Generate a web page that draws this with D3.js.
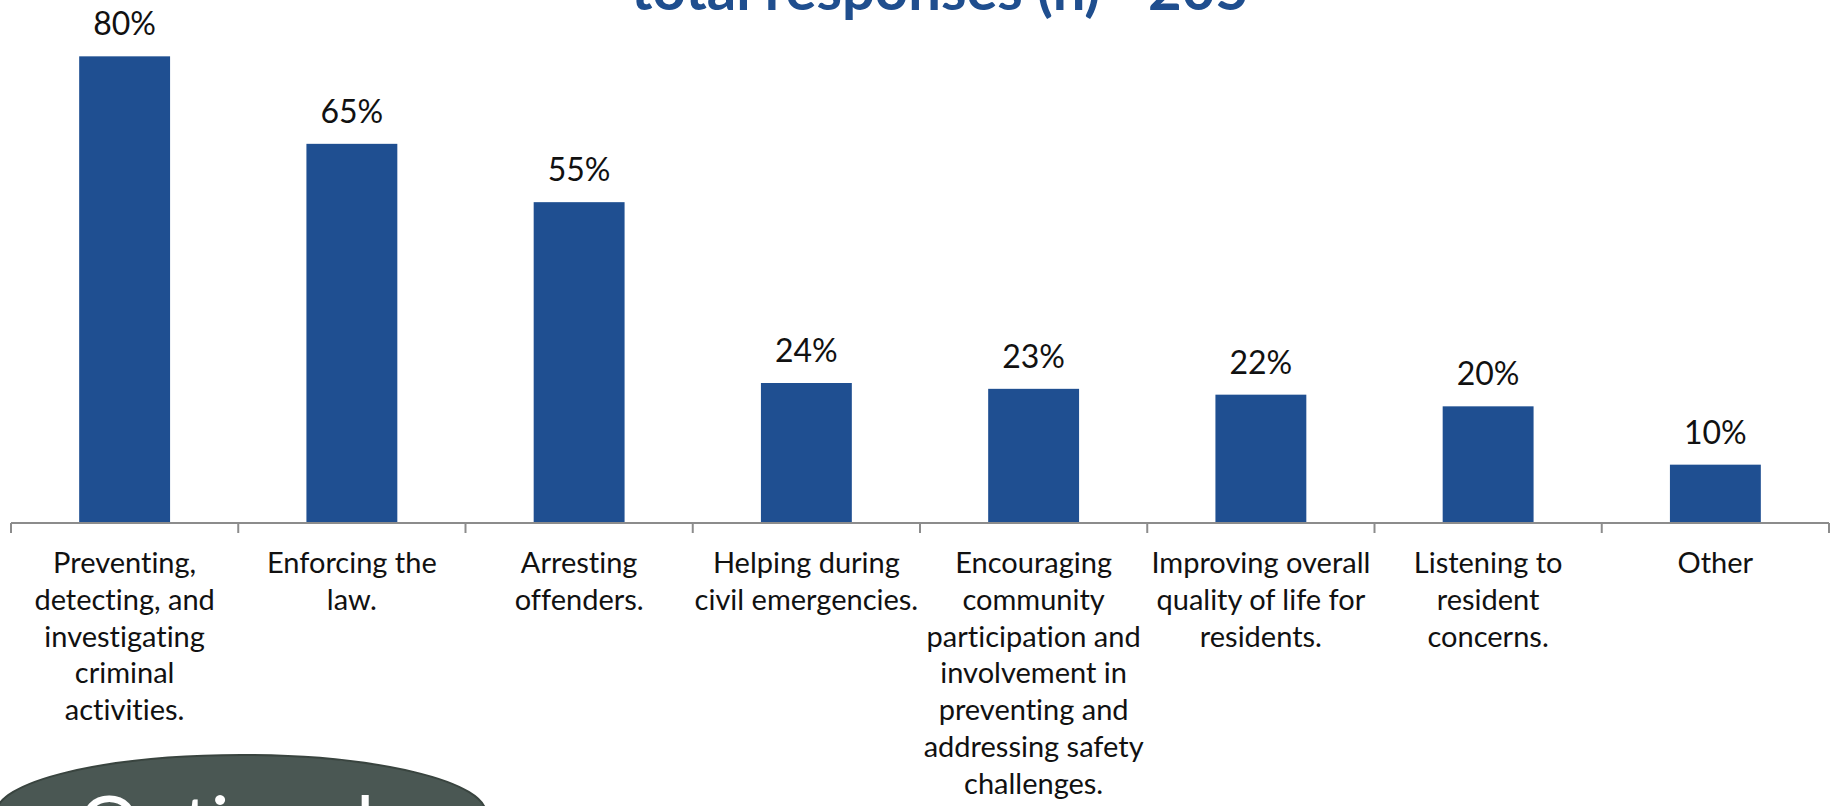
<!DOCTYPE html>
<html>
<head>
<meta charset="utf-8">
<script src="https://cdn.jsdelivr.net/npm/d3@7/dist/d3.min.js"></script>
<style>
  html, body { margin: 0; padding: 0; background: #fff; overflow: hidden; }
  svg { display: block; font-family: Lato, "Open Sans", sans-serif; font-variant-ligatures: none; }
</style>
</head>
<body>
<div id="chart"></div>
<script>
// Values
const categories = [
  "Preventing,\ndetecting, and\ninvestigating\ncriminal\nactivities.",
  "Enforcing the\nlaw.",
  "Arresting\noffenders.",
  "Helping during\ncivil emergencies.",
  "Encouraging\ncommunity\nparticipation and\ninvolvement in\npreventing and\naddressing safety\nchallenges.",
  "Improving overall\nquality of life for\nresidents.",
  "Listening to\nresident\nconcerns.",
  "Other"
];
const shares = [0.80, 0.65, 0.55, 0.24, 0.23, 0.22, 0.20, 0.10];
const titleText = "total responses (n) =205";
const badgeText = "Optional";

const width = 1833, height = 806;
const baseY = 523;

const svg = d3.select("#chart").append("svg")
  .attr("width", width)
  .attr("height", height);

const x = d3.scaleBand()
  .domain(categories)
  .range([11, 1829])
  .paddingInner(0.6)
  .paddingOuter(0.3);

const y = d3.scaleLinear()
  .domain([0, 0.9])
  .range([baseY, -2]);

const fmt = d3.format(".0%");

// title, cut off by the top edge of the slide
let title = svg.append("text")
  .attr("x", 940)
  .attr("y", 10)
  .attr("text-anchor", "middle")
  .style("font-weight", 700)
  .style("font-size", "46px")
  .style("fill", "#1f4e8e")
  .text(titleText);
// fit the title to the width it takes in the picture
let tw = title.node().getComputedTextLength();
title.style("font-size", (46 * 618 / tw) + "px");

// bars
svg.append("g").selectAll("rect")
  .data(shares)
  .join("rect")
  .attr("x", (d, i) => x(categories[i]))
  .attr("y", d => y(d))
  .attr("width", x.bandwidth())
  .attr("height", d => y(0) - y(d))
  .style("fill", "#1f4f91");

// value labels
svg.append("g").selectAll("text")
  .data(shares)
  .join("text")
  .attr("x", (d, i) => x(categories[i]) + x.bandwidth() / 2)
  .attr("y", d => y(d) - 21)
  .attr("text-anchor", "middle")
  .style("font-size", "32px")
  .style("fill", "#111")
  .text(d => fmt(d));

// axis line with ticks between the categories
let axis = svg.append("g").style("stroke", "#8c8c8c").style("stroke-width", 2);
axis.append("line")
  .attr("x1", x.range()[0]).attr("x2", x.range()[1])
  .attr("y1", baseY).attr("y2", baseY);
axis.selectAll(".tick")
  .data(d3.range(categories.length + 1))
  .join("line")
  .attr("class", "tick")
  .attr("x1", i => x.range()[0] + i * x.step())
  .attr("x2", i => x.range()[0] + i * x.step())
  .attr("y1", baseY)
  .attr("y2", baseY + 10);

// category labels
let labels = svg.append("g").selectAll("text")
  .data(categories)
  .join("text")
  .attr("x", d => x(d) + x.bandwidth() / 2)
  .attr("y", 573)
  .attr("text-anchor", "middle")
  .style("font-size", "29px")
  .style("fill", "#111");
labels.each(function(d) {
  let t = d3.select(this);
  d.split("\n").forEach((line, j) => {
    t.append("tspan")
      .attr("x", x(d) + x.bandwidth() / 2)
      .attr("y", 573 + j * 36.8)
      .text(line);
  });
});

// dark badge in the lower left corner
let badge = svg.append("g");
badge.append("ellipse")
  .attr("cx", 241)
  .attr("cy", 813.5)
  .attr("rx", 245)
  .attr("ry", 58.5)
  .style("fill", "#4a5753")
  .style("stroke", "#39443f")
  .style("stroke-width", 2);
badge.append("text")
  .attr("x", 78)
  .attr("y", 852)
  .style("font-size", "78px")
  .style("fill", "#fff")
  .text(badgeText);
</script>
</body>
</html>
